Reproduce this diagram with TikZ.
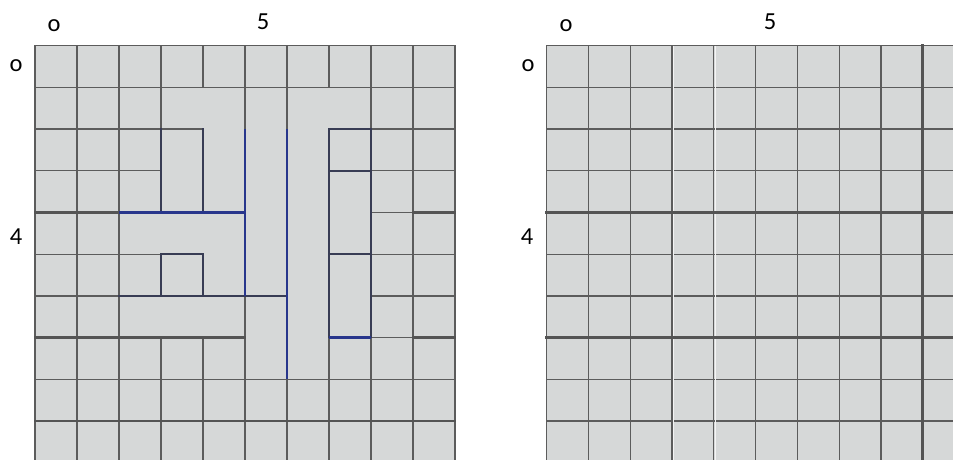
\documentclass[tikz,border=0pt]{standalone}
\usepackage{fontspec}
\setmainfont{Carlito}
\definecolor{cellfill}{RGB}{214,216,216}
\definecolor{gline}{RGB}{92,92,92}
\definecolor{tline}{RGB}{84,84,84}
\definecolor{dline}{RGB}{56,60,84}
\definecolor{bline}{RGB}{40,54,140}
\definecolor{hlcol}{RGB}{244,244,244}
\tikzset{
  gl/.style={draw=gline, line width=1.3pt, line cap=rect},
  tl/.style={draw=tline, line width=2.9pt, line cap=rect},
  dl/.style={draw=dline, line width=1.6pt, line cap=rect},
  bl/.style={draw=bline, line width=2.8pt},
  hl/.style={draw=hlcol, line width=0.8pt},
  lab/.style={font=\fontsize{24.5}{28}\selectfont, inner sep=0pt, text=black}
}
\begin{document}
\begin{tikzpicture}[x=1pt,y=-1pt]
\useasboundingbox (0,0) rectangle (953,460);
\clip (0,0) rectangle (953,460);
% labels
\node[lab] (lo1) at (54,26) {o};
\node[lab] (lf1) at (263,22) {5};
\node[lab] (lo2) at (16,66) {o};
\node[lab] (lf2) at (16,237) {4};
\node[lab] (ro1) at (566,26) {o};
\node[lab] (rf1) at (770,22) {5};
\node[lab] (ro2) at (528,66) {o};
\node[lab] (rf2) at (527,237) {4};
% left grid
\begin{scope}[shift={(35,45.7)}, x=42pt, y=-41.7pt]
  \fill[cellfill] (0,0) rectangle (10,11);
  % horizontal
  \draw[gl] (0,0)--(10,0) (0,1)--(10,1) (0,2)--(4,2) (8,2)--(10,2)
            (0,3)--(3,3) (8,3)--(10,3) (8,4)--(9,4)
            (0,5)--(3,5) (8,5)--(10,5) (0,6)--(2,6) (8,6)--(10,6)
            (8,7)--(9,7) (0,8)--(10,8);
  % vertical
  \draw[gl] (0,0)--(0,11) (1,0)--(1,11) (2,0)--(2,11)
            (3,0)--(3,2) (3,7)--(3,11)
            (4,0)--(4,1) (4,7)--(4,11)
            (5,0)--(5,2) (5,6)--(5,11)
            (6,0)--(6,2) (6,8)--(6,11)
            (7,0)--(7,1) (7,7)--(7,11)
            (8,0)--(8,2) (8,7)--(8,11)
            (9,0)--(9,11) (10,0)--(10,11);
  % dark segments
  \draw[dl] (7,2)--(8,2) (7,3)--(8,3) (3,5)--(4,5) (7,5)--(8,5) (2,6)--(6,6)
            (3,2)--(3,4) (3,5)--(3,6) (4,2)--(4,4) (4,5)--(4,6)
            (7,2)--(7,7) (8,2)--(8,7);
  % thick
  \draw[tl] (0,4)--(2,4) (9,4)--(10,4) (0,7)--(5,7) (9,7)--(10,7) (0,9)--(10,9);
  % blue
  \draw[bl] (2,4)--(5,4) (7,7)--(8,7) (5,2)--(5,6) (6,2)--(6,8);
\end{scope}
% right grid
\begin{scope}[shift={(546.7,45.7)}, x=41.78pt, y=-41.7pt]
  \fill[cellfill] (0,0) rectangle (11,11);
  \foreach \j in {0,1,2,3,5,6,8,9,10} \draw[gl] (0,\j)--(11,\j);
  \foreach \i in {0,...,8} \draw[gl] (\i,0)--(\i,11);
  \draw[hl] ([xshift=1.8pt]3,0)--([xshift=1.8pt]3,11)
            ([xshift=1.8pt]4,0)--([xshift=1.8pt]4,11);
  \draw[tl] (0,4)--(11,4) (0,7)--(11,7) (9,0)--(9,11);
\end{scope}
\end{tikzpicture}
\end{document}
